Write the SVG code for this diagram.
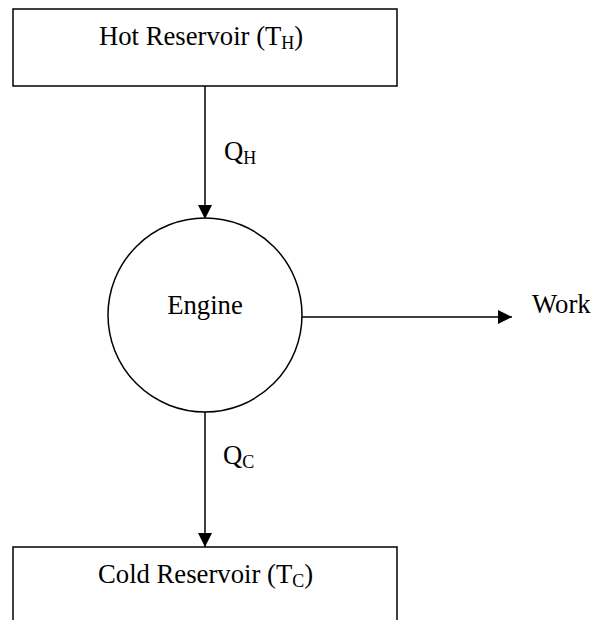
<svg xmlns="http://www.w3.org/2000/svg" width="595" height="620" viewBox="0 0 595 620">
<defs>
<marker id="ah" viewBox="0 0 14 14" refX="14" refY="7" markerWidth="14" markerHeight="14" markerUnits="userSpaceOnUse" orient="auto">
<path d="M0,0 L14,7 L0,14 Z" fill="#000"/>
</marker>
<style>
.box{fill:#fff;stroke:#000;stroke-width:1.5}
.ln{stroke:#000;stroke-width:1.5;fill:none}
.t{font-family:"Liberation Serif","Times New Roman",serif;font-size:26.7px;fill:#000}
.sub{font-size:18px}
</style>
</defs>
<rect width="595" height="620" fill="#fff"/>
<g id="connectors">
<line class="ln" x1="205" y1="86" x2="205" y2="219" marker-end="url(#ah)"/>
<line class="ln" x1="302" y1="317" x2="512" y2="317" marker-end="url(#ah)"/>
<line class="ln" x1="205" y1="412" x2="205" y2="547" marker-end="url(#ah)"/>
<text class="t" x="224" y="160" font-family="Liberation Serif, Times New Roman, serif">Q<tspan class="sub" dy="4">H</tspan></text>
<text class="t" x="223" y="464" font-family="Liberation Serif, Times New Roman, serif">Q<tspan class="sub" dy="4">C</tspan></text>
</g>
<g id="hot">
<rect class="box" x="13" y="9" width="384" height="77"/>
<text class="t" x="99" y="45" font-family="Liberation Serif, Times New Roman, serif">Hot Reservoir (T<tspan class="sub" dy="4">H</tspan><tspan dy="-4">)</tspan></text>
</g>
<g id="engine">
<circle class="box" cx="205" cy="315" r="97"/>
<text class="t" x="205" y="314" text-anchor="middle" font-family="Liberation Serif, Times New Roman, serif">Engine</text>
</g>
<g id="work">
<text class="t" x="532" y="313" font-family="Liberation Serif, Times New Roman, serif">Work</text>
</g>
<g id="cold">
<rect class="box" x="13" y="547" width="384" height="90"/>
<text class="t" x="98" y="583" font-family="Liberation Serif, Times New Roman, serif">Cold Reservoir (T<tspan class="sub" dy="4">C</tspan><tspan dy="-4">)</tspan></text>
</g>
</svg>
